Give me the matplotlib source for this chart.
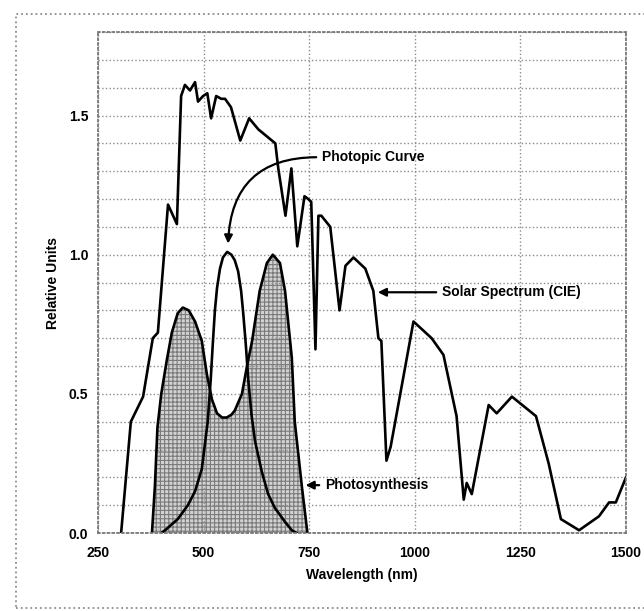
import matplotlib
matplotlib.use("Agg")
import matplotlib.pyplot as plt
from matplotlib.patches import Rectangle

plt.rcParams['font.family'] = ['Liberation Sans', 'DejaVu Sans']
plt.rcParams['font.weight'] = 'bold'
plt.rcParams['hatch.linewidth'] = 0.8

# solar spectrum (CIE)
solar_wl = [305, 328, 357, 380, 392, 416, 437, 447, 456, 468, 480, 487, 499, 509,
            518, 530, 542, 551, 565, 587, 608, 630, 670, 677, 694, 708, 722, 739,
            748, 755, 765, 772, 779, 800, 822, 836, 855, 883, 902, 914, 921, 933,
            943, 997, 1040, 1068, 1099, 1116, 1123, 1135, 1175, 1194, 1230, 1287,
            1317, 1346, 1389, 1436, 1460, 1476, 1500]
solar_val = [0, 0.40, 0.49, 0.70, 0.72, 1.18, 1.11, 1.57, 1.61, 1.59, 1.62, 1.55, 1.57, 1.58,
             1.49, 1.57, 1.56, 1.56, 1.53, 1.41, 1.49, 1.45, 1.40, 1.31, 1.14, 1.31, 1.03, 1.21,
             1.20, 1.19, 0.66, 1.14, 1.14, 1.10, 0.80, 0.96, 0.99, 0.95, 0.87, 0.70, 0.69, 0.26,
             0.31, 0.76, 0.70, 0.64, 0.42, 0.12, 0.18, 0.14, 0.46, 0.43, 0.49, 0.42,
             0.25, 0.05, 0.01, 0.06, 0.11, 0.11, 0.20]

# photosynthesis action curve
ps_wl = [378, 385, 391, 400, 413, 425, 439, 451, 465, 480, 496, 508, 520, 532, 544, 555,
         566, 574, 591, 603, 615, 633, 650, 664, 681, 693, 709, 716, 733, 746]
ps_val = [0, 0.17, 0.38, 0.50, 0.62, 0.72, 0.79, 0.81, 0.80, 0.76, 0.69, 0.57, 0.48, 0.43, 0.415, 0.415,
          0.425, 0.44, 0.50, 0.60, 0.69, 0.87, 0.97, 1.00, 0.97, 0.87, 0.63, 0.40, 0.165, 0]

# photopic (eye) curve
ph_wl = [400, 409, 439, 463, 480, 496, 510, 517, 522, 527, 532, 539, 546, 556, 566, 574,
         582, 589, 594, 600, 606, 614, 622, 638, 653, 669, 693, 709, 720]
ph_val = [0, 0.01, 0.05, 0.10, 0.15, 0.23, 0.40, 0.55, 0.68, 0.80, 0.88, 0.95, 0.99, 1.01, 1.00, 0.98,
          0.94, 0.87, 0.79, 0.68, 0.55, 0.42, 0.33, 0.22, 0.14, 0.09, 0.04, 0.01, 0]

xticks = [250, 500, 750, 1000, 1250, 1500]
yticks = [0.0, 0.5, 1.0, 1.5]

fig = plt.figure(figsize=(6.44, 6.11), dpi=100)
ax = fig.add_axes([0.152, 0.1276, 0.820, 0.8200])

ax.fill_between(ps_wl, ps_val, 0, facecolor='#d2d2d2', edgecolor='#7a7a7a',
                hatch='++++', linewidth=0)
ax.plot(ps_wl, ps_val, color='black', lw=1.9)
ax.plot(ph_wl, ph_val, color='black', lw=1.9)
ax.plot(solar_wl, solar_val, color='black', lw=1.9)

ax.set_xlim(250, 1500)
ax.set_ylim(0, 1.8)
ax.set_xticks(xticks)
ax.set_xticklabels([str(t) for t in xticks])
ax.set_yticks(yticks)
ax.set_yticklabels(['%.1f' % t for t in yticks])
ax.set_yticks([i / 10 for i in range(19)], minor=True)
ax.tick_params(length=0, labelsize=10, pad=7)
ax.tick_params(axis='x', pad=9)
ax.tick_params(which='minor', length=0)

ax.grid(True, which='both', color='#8c8c8c', linestyle=':', lw=1.0)
ax.grid(False, which='minor', axis='x')
for s in ax.spines.values():
    s.set_linestyle(':')
    s.set_color('#777777')
    s.set_linewidth(1.3)

ax.set_xlabel('Wavelength (nm)', fontsize=10, fontweight='bold', labelpad=6)
ax.set_ylabel('Relative Units', fontsize=10, fontweight='bold', labelpad=6)

arr = dict(arrowstyle='-|>', color='black', lw=1.6, mutation_scale=12, relpos=(0, 0.5))
ax.annotate('Photopic Curve', xy=(558, 1.03), xytext=(780, 1.35), ha='left', va='center',
            fontsize=10, fontweight='bold',
            arrowprops=dict(arr, connectionstyle='arc3,rad=0.5'))
ax.annotate('Solar Spectrum (CIE)', xy=(906, 0.865), xytext=(1064, 0.865), ha='left',
            va='center', fontsize=10, fontweight='bold', arrowprops=arr)
ax.annotate('Photosynthesis', xy=(735, 0.172), xytext=(787, 0.172), ha='left',
            va='center', fontsize=10, fontweight='bold', arrowprops=arr)

# dotted frame round the whole figure (right side runs off the page)
fig.patches.append(Rectangle((16 / 644, 3 / 611), 700 / 644, 594 / 611, transform=fig.transFigure,
                             fill=False, linestyle=':', edgecolor='#8c8c8c', lw=1.3))

fig.savefig('out.png', dpi=100)
